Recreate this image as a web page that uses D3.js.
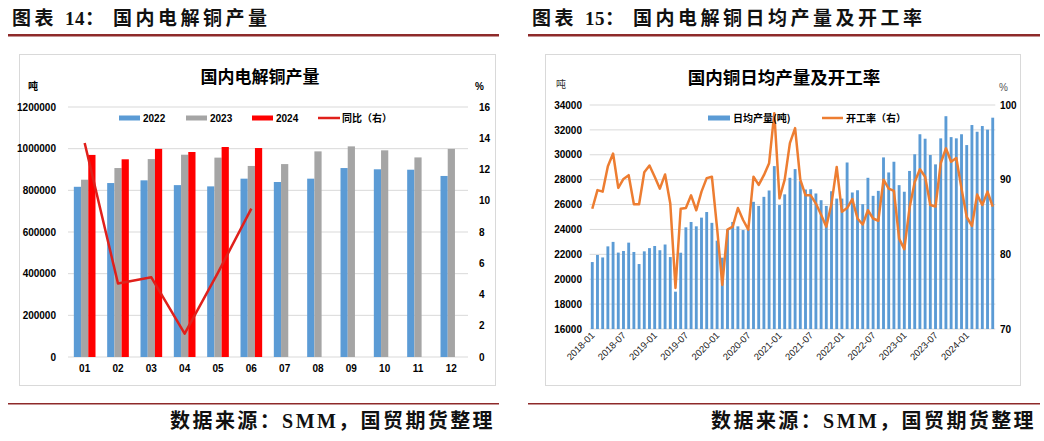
<!DOCTYPE html>
<html><head><meta charset="utf-8">
<script src="https://cdn.jsdelivr.net/npm/d3@7"></script>
<style>body{margin:0;background:#fff}</style>
</head><body><svg id="c" width="1044" height="441"></svg>
<script>
// ---------- Left chart data ----------
const months = ["01","02","03","04","05","06","07","08","09","10","11","12"];
const prod2022 = [817000, 835000, 848000, 825000, 819000, 856000, 840000, 856000, 907000, 901000, 899000, 869000];
const prod2023 = [851000, 907000, 950000, 971000, 957000, 917000, 926000, 987000, 1011000, 992000, 958000, 999000];
const prod2024 = [970000, 949000, 999000, 984000, 1008000, 1003000];
const yoy2024 = [13.7, 4.7, 5.1, 1.5, 5.4, 9.5];
const leftTicks = [0, 200000, 400000, 600000, 800000, 1000000, 1200000];
const leftRightTicks = [0, 2, 4, 6, 8, 10, 12, 14, 16];

// ---------- Right chart data (2018-01 .. 2024-06) ----------
const dailyOutput = [
  21380, 21950, 21750, 22640, 23000, 22140, 22270, 22940, 22190, 21220, 22240, 22500,
  22670, 22330, 22790, 21780, 19000, 22130, 24170, 24600, 24250, 24950, 25400, 24530,
  23100, 21730, 24000, 24600, 24250, 23950, 24000, 26220, 25890, 26620, 27130, 29090,
  25960, 26820, 28150, 28850, 27880, 27210, 27230, 26890, 26350, 25890, 27070, 26480,
  26480, 29380, 26970, 27150, 26030, 28150, 26700, 27100, 29790, 28580, 29440, 27560,
  27030, 28700, 30040, 31650, 31290, 29980, 29230, 31320, 33100, 31420, 31320, 31650,
  30780, 32390, 31850, 32310, 32020, 32980];
const operatingRate = [
  86.1, 88.6, 88.4, 91.8, 93.5, 88.9, 90.1, 90.6, 86.7, 86.7, 91.0, 91.9,
  90.4, 88.8, 90.7, 86.8, 75.5, 86.1, 86.2, 87.9, 85.9, 88.4, 90.2, 90.4,
  83.5, 75.9, 83.3, 83.7, 86.2, 84.6, 83.3, 90.4, 89.3, 90.6, 92.2, 98.9,
  87.5, 90.0, 94.9, 96.9, 90.0, 87.9, 87.9, 86.8, 85.3, 83.7, 86.8, 91.7,
  85.7, 86.2, 87.4, 84.8, 84.0, 85.9, 84.8, 84.5, 90.0, 88.8, 88.5, 82.1,
  80.7, 86.2, 89.7, 91.4, 90.4, 86.6, 86.4, 92.2, 94.2, 92.4, 92.9, 88.8,
  85.0, 83.8, 88.0, 86.6, 88.4, 86.4];
const rightXTicks = ["2018-01","2018-07","2019-01","2019-07","2020-01","2020-07","2021-01","2021-07","2022-01","2022-07","2023-01","2023-07","2024-01"];
const rightLeftTicks = [16000,18000,20000,22000,24000,26000,28000,30000,32000,34000];
const rightRightTicks = [70, 80, 90, 100];
const monthCats = [];
for (let y = 2018; y <= 2024; y++) for (let m = 1; m <= 12; m++) {
  if (monthCats.length < dailyOutput.length) monthCats.push(y + "-" + String(m).padStart(2, "0"));
}

// ---------- Common ----------
const svg = d3.select("#c");
svg.append("rect").attr("width", 1044).attr("height", 441).attr("fill", "#fff");
const HEAD_FONT = "'Liberation Serif','Noto Sans CJK SC',serif";
const TICK_FONT = "'Liberation Sans Narrow','Liberation Sans',Arial,sans-serif";
const CJK = "'Noto Sans CJK SC','Liberation Sans',sans-serif";
const dark = "#8E2A2A";

function frame(x0, x1, num, title) {
  const t = svg.append("text").attr("y", 25)
    .attr("font-family", HEAD_FONT).attr("font-size", 19).attr("font-weight", "bold")
    .attr("letter-spacing", 3.5).attr("fill", "#111");
  t.append("tspan").attr("x", x0 + 4).text("图表");
  t.append("tspan").attr("x", x0 + 57).attr("letter-spacing", 0.5).text(num + "：");
  t.append("tspan").attr("x", x0 + 105).text(title);
  svg.append("rect").attr("x", x0).attr("y", 34).attr("width", x1 - x0).attr("height", 2.5).attr("fill", dark);
  svg.append("rect").attr("x", x0).attr("y", 403).attr("width", x1 - x0).attr("height", 1.5).attr("fill", dark);
  svg.append("text").attr("x", x1 - 4).attr("y", 428).attr("text-anchor", "end")
    .text("数据来源：SMM，国贸期货整理")
    .attr("font-family", HEAD_FONT).attr("font-size", 20).attr("font-weight", "bold")
    .attr("letter-spacing", 2.4).attr("fill", "#111");
}
frame(8, 499, "14", "国内电解铜产量");
frame(528, 1040, "15", "国内电解铜日均产量及开工率");

function styleAxis(g, size, weight) {
  g.select(".domain").remove();
  g.selectAll(".tick line").remove();
  g.selectAll("text").attr("font-family", TICK_FONT).attr("font-size", size)
    .attr("font-weight", weight).attr("fill", "#000");
}

// ---------- Left chart ----------
{
  svg.append("rect").attr("x", 19.5).attr("y", 54.5).attr("width", 476).attr("height", 331)
    .attr("fill", "#fff").attr("stroke", "#D9D9D9");
  const x = d3.scaleBand().domain(months).range([68, 468]);
  const xs = d3.scaleBand().domain(["2022", "2023", "2024"])
    .range([x.bandwidth() * 0.175, x.bandwidth() * 0.825]);
  const y = d3.scaleLinear().domain([0, 1200000]).range([357, 107]);
  const y2 = d3.scaleLinear().domain([0, 16]).range([357, 107]);
  const g = svg.append("g");
  g.selectAll("line.grid").data(leftTicks).join("line")
    .attr("x1", 68).attr("x2", 468).attr("y1", d => y(d)).attr("y2", d => y(d))
    .attr("stroke", "#D9D9D9").attr("stroke-width", 1);
  const series = [["2022", prod2022, "#5B9BD5"], ["2023", prod2023, "#A5A5A5"], ["2024", prod2024, "#FF0000"]];
  series.forEach(([k, vals, col]) => {
    g.selectAll("rect.s" + k).data(vals).join("rect")
      .attr("x", (d, i) => x(months[i]) + xs(k)).attr("width", xs.bandwidth())
      .attr("y", d => y(d)).attr("height", d => y(0) - y(d)).attr("fill", col);
  });
  const line = d3.line().x((d, i) => x(months[i]) + x.bandwidth() / 2).y(d => y2(d));
  g.append("path").datum(yoy2024).attr("d", line).attr("fill", "none")
    .attr("stroke", "#E0201B").attr("stroke-width", 2.5).attr("stroke-linejoin", "round");

  const ax = svg.append("g").attr("transform", "translate(62,0)")
    .call(d3.axisLeft(y).tickValues(leftTicks).tickFormat(d => String(d)).tickSize(0).tickPadding(6));
  styleAxis(ax, 10, "bold");
  const ax2 = svg.append("g").attr("transform", "translate(474,0)")
    .call(d3.axisRight(y2).tickValues(leftRightTicks).tickSize(0).tickPadding(5));
  styleAxis(ax2, 10, "bold");
  const axx = svg.append("g").attr("transform", "translate(0,365)")
    .call(d3.axisBottom(x).tickSize(0).tickPadding(0));
  styleAxis(axx, 10, "bold");

  svg.append("text").attr("x", 260).attr("y", 83).attr("text-anchor", "middle").text("国内电解铜产量")
    .attr("font-family", CJK).attr("font-size", 17).attr("font-weight", "bold").attr("fill", "#000");
  svg.append("text").attr("x", 28).attr("y", 90).text("吨")
    .attr("font-family", CJK).attr("font-size", 10).attr("font-weight", "bold");
  svg.append("text").attr("x", 475).attr("y", 90).text("%")
    .attr("font-family", TICK_FONT).attr("font-size", 10).attr("font-weight", "bold");

  const leg = [["2022", "#5B9BD5", 119, "rect"], ["2023", "#A5A5A5", 186, "rect"],
               ["2024", "#FF0000", 252, "rect"], ["同比（右）", "#E0201B", 318, "line"]];
  leg.forEach(([t, c, lx, kind]) => {
    if (kind === "rect") svg.append("rect").attr("x", lx).attr("y", 115.5).attr("width", 21).attr("height", 5).attr("fill", c);
    else svg.append("line").attr("x1", lx).attr("x2", lx + 22).attr("y1", 118).attr("y2", 118)
      .attr("stroke", c).attr("stroke-width", 2.5);
    svg.append("text").attr("x", lx + 24).attr("y", 122).text(t)
      .attr("font-family", kind === "rect" ? TICK_FONT : CJK).attr("font-size", 10).attr("font-weight", "bold");
  });
}

// ---------- Right chart ----------
{
  svg.append("rect").attr("x", 545.5).attr("y", 54.5).attr("width", 475).attr("height", 331)
    .attr("fill", "#fff").attr("stroke", "#D9D9D9");
  const x = d3.scaleBand().domain(monthCats).range([589.7, 995.3]).paddingInner(0.45).paddingOuter(0.22);
  const y = d3.scaleLinear().domain([16000, 34000]).range([329, 105]);
  const y2 = d3.scaleLinear().domain([70, 100]).range([329, 105]);
  const g = svg.append("g");
  g.selectAll("line.grid").data(rightLeftTicks).join("line")
    .attr("x1", 589.7).attr("x2", 995.3).attr("y1", d => y(d)).attr("y2", d => y(d))
    .attr("stroke", "#D9D9D9").attr("stroke-width", 1);
  g.selectAll("rect.bar").data(dailyOutput).join("rect")
    .attr("x", (d, i) => x(monthCats[i])).attr("width", x.bandwidth())
    .attr("y", d => y(d)).attr("height", d => y(16000) - y(d)).attr("fill", "#5B9BD5");
  const line = d3.line().x((d, i) => x(monthCats[i]) + x.bandwidth() / 2).y(d => y2(d));
  g.append("path").datum(operatingRate).attr("d", line).attr("fill", "none")
    .attr("stroke", "#ED7D31").attr("stroke-width", 2.5).attr("stroke-linejoin", "round");

  const ax = svg.append("g").attr("transform", "translate(588,0)")
    .call(d3.axisLeft(y).tickValues(rightLeftTicks).tickFormat(d => String(d)).tickSize(0).tickPadding(6));
  styleAxis(ax, 10, "bold");
  const ax2 = svg.append("g").attr("transform", "translate(994,0)")
    .call(d3.axisRight(y2).tickValues(rightRightTicks).tickSize(0).tickPadding(6));
  styleAxis(ax2, 10, "bold");
  const axx = svg.append("g").attr("transform", "translate(0,331)")
    .call(d3.axisBottom(x).tickValues(rightXTicks).tickSize(0).tickPadding(0));
  axx.select(".domain").remove();
  axx.selectAll("text").attr("font-family", "'Liberation Sans',Arial,sans-serif").attr("font-size", 9.5)
    .attr("fill", "#222").attr("text-anchor", "end").attr("dy", "0.3em")
    .attr("transform", "translate(1,3) rotate(-45)");

  svg.append("text").attr("x", 784).attr("y", 84).attr("text-anchor", "middle").text("国内铜日均产量及开工率")
    .attr("font-family", CJK).attr("font-size", 17.5).attr("font-weight", "bold").attr("fill", "#000");
  svg.append("text").attr("x", 556).attr("y", 88).text("吨")
    .attr("font-family", CJK).attr("font-size", 10).attr("fill", "#333");
  svg.append("text").attr("x", 999).attr("y", 91).text("%")
    .attr("font-family", "'Liberation Sans',Arial,sans-serif").attr("font-size", 10).attr("fill", "#555");

  svg.append("rect").attr("x", 708).attr("y", 115.5).attr("width", 22).attr("height", 5).attr("fill", "#5B9BD5");
  svg.append("text").attr("x", 733).attr("y", 122).text("日均产量(吨)")
    .attr("font-family", CJK).attr("font-size", 10).attr("font-weight", "bold");
  svg.append("line").attr("x1", 822).attr("x2", 843).attr("y1", 118).attr("y2", 118)
    .attr("stroke", "#ED7D31").attr("stroke-width", 2.5);
  svg.append("text").attr("x", 846).attr("y", 122).text("开工率（右）")
    .attr("font-family", CJK).attr("font-size", 10).attr("font-weight", "bold");
}
</script></body></html>
